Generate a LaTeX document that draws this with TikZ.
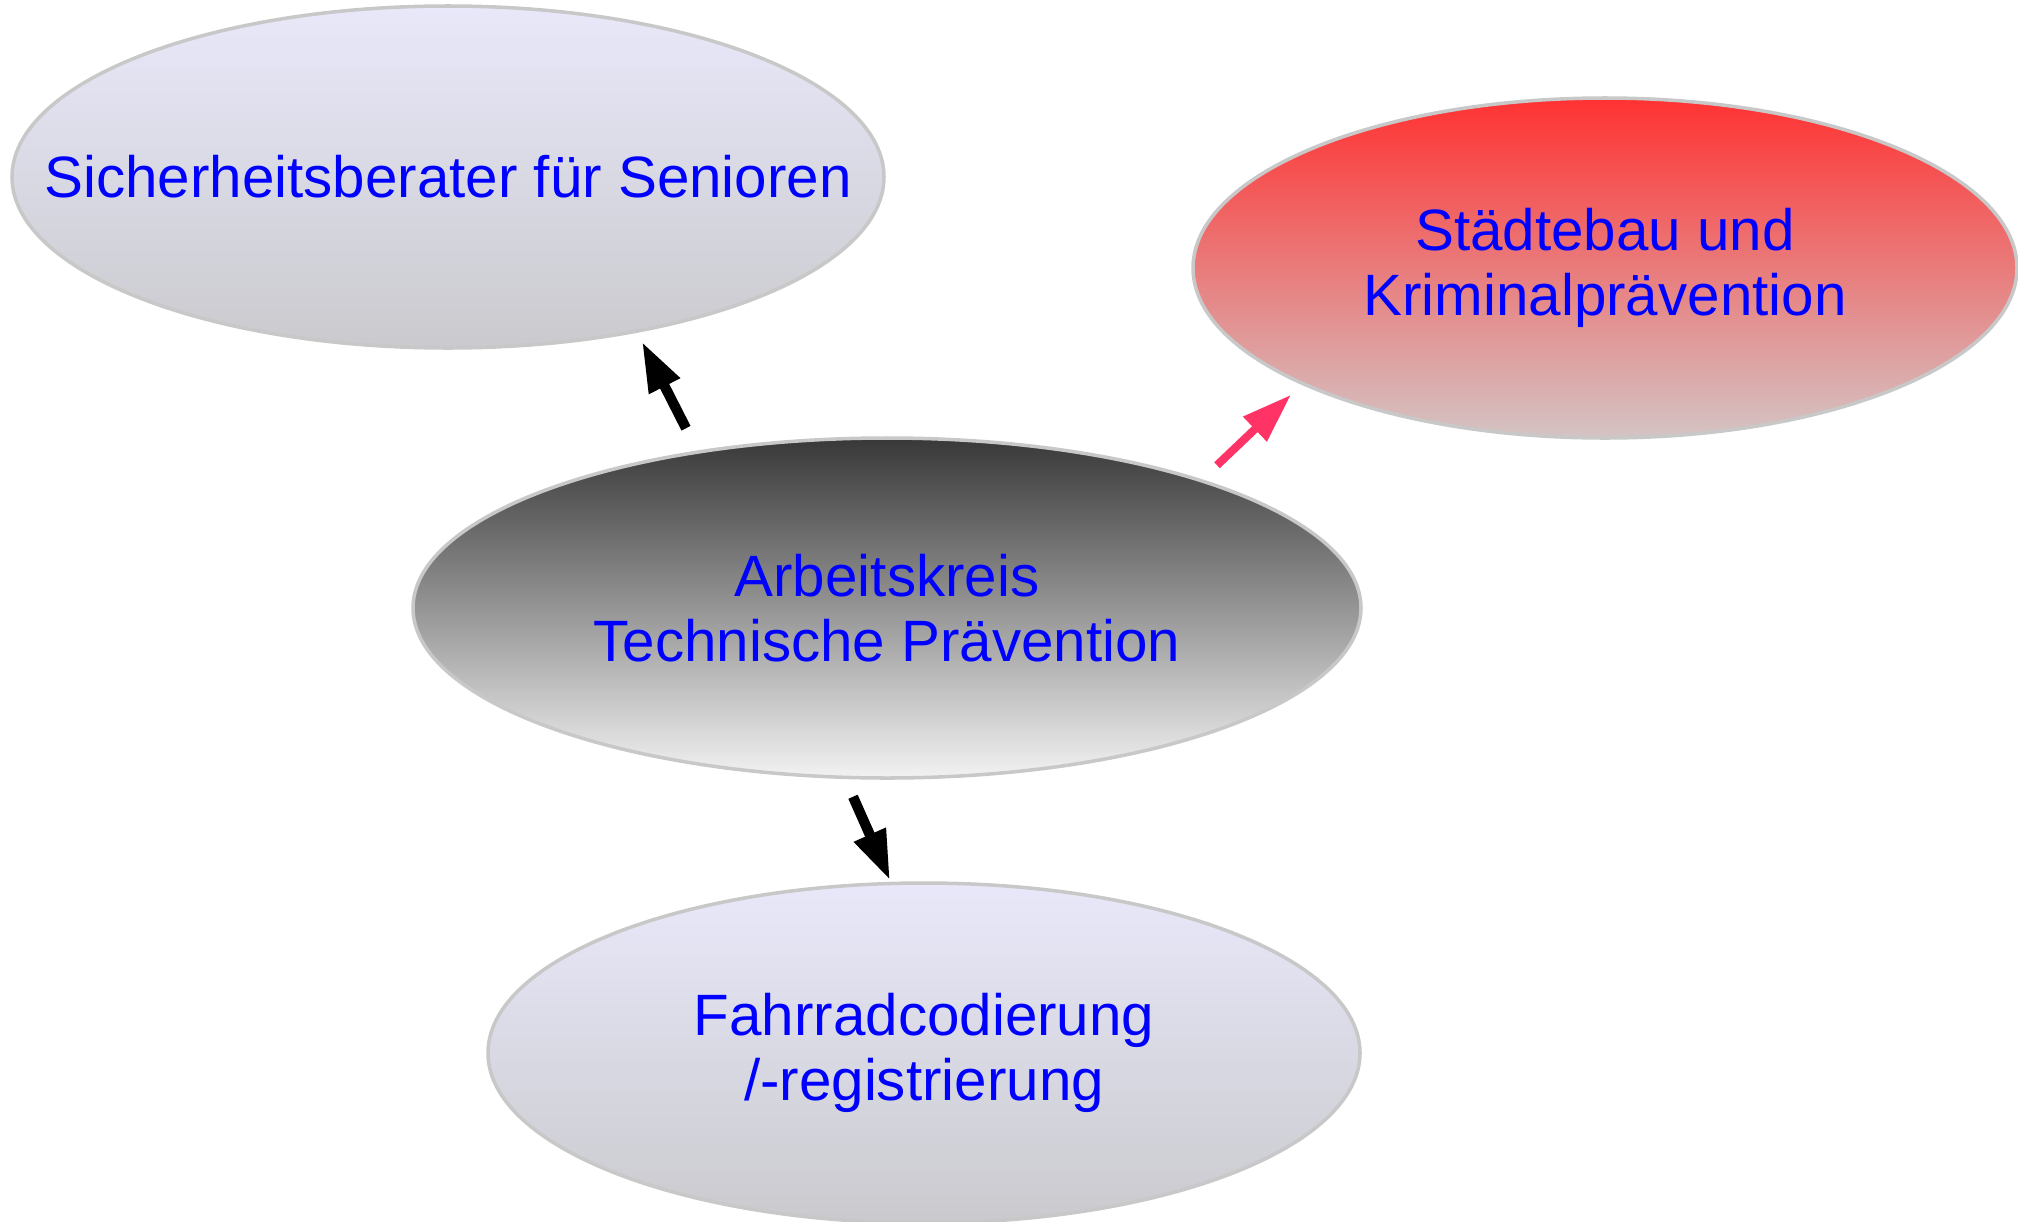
\documentclass[tikz,border=0pt]{standalone}
\usepackage{fontspec}
\setmainfont{Liberation Sans}
\usetikzlibrary{positioning, shapes.geometric, arrows.meta}

\definecolor{txtblue}{RGB}{0,0,255}
\definecolor{rand}{RGB}{200,200,200}
\definecolor{lav}{RGB}{232,232,250}
\definecolor{lavgrau}{RGB}{202,202,206}
\definecolor{rot}{RGB}{255,50,50}
\definecolor{rotgrau}{RGB}{212,196,196}
\definecolor{pink}{RGB}{255,51,102}

\begin{document}
\begin{tikzpicture}[
    every node/.style={font=\fontsize{16.6}{18.3}\selectfont, text=txtblue},
    blase/.style={ellipse, draw=rand, line width=1pt, inner sep=0pt, align=center,
                  minimum width=8.72cm, minimum height=3.42cm},
    hell/.style={blase, top color=lav, bottom color=lavgrau},
    pfeil/.style={line width=2.9pt, -{Triangle[width=9.2pt, length=14.2pt]}},
]
\useasboundingbox (0,0) rectangle (20.18,-12.21);
\clip (0,0) rectangle (20.18,-12.21);

% ── Mitte ────────────────────────────────────────────────────────────────────
\node[blase, minimum width=9.48cm, minimum height=3.40cm, top color=black!78, bottom color=black!5]
      (ak) at (8.87,-6.08) {Arbeitskreis\\Technische Prävention};

% ── Äste ─────────────────────────────────────────────────────────────────────
\node[hell] (senioren) at (4.48,-1.77) {\makebox[0pt]{Sicherheitsberater für Senioren}};
\node[blase, minimum width=8.24cm, minimum height=3.40cm, top color=rot, bottom color=rotgrau]
      (staedte) at (16.05,-2.68) {Städtebau und\\Kriminalprävention};
\node[hell, minimum height=3.40cm] (fahrrad) at (9.24,-10.53) {Fahrradcodierung\\/-registrierung};

% ── Pfeile ───────────────────────────────────────────────────────────────────
\draw[pfeil] ([shift={(-2.01,0.08)}]ak.north) -- ([shift={(1.94,0.08)}]senioren.south);
\draw[pfeil, pink, line width=2.3pt] ([shift={(3.30,-0.29)}]ak.north) -- ([shift={(-3.14,0.45)}]staedte.south);
\draw[pfeil] ([shift={(-0.34,-0.17)}]ak.south) -- ([shift={(-0.34,0.01)}]fahrrad.north);

\end{tikzpicture}
\end{document}
